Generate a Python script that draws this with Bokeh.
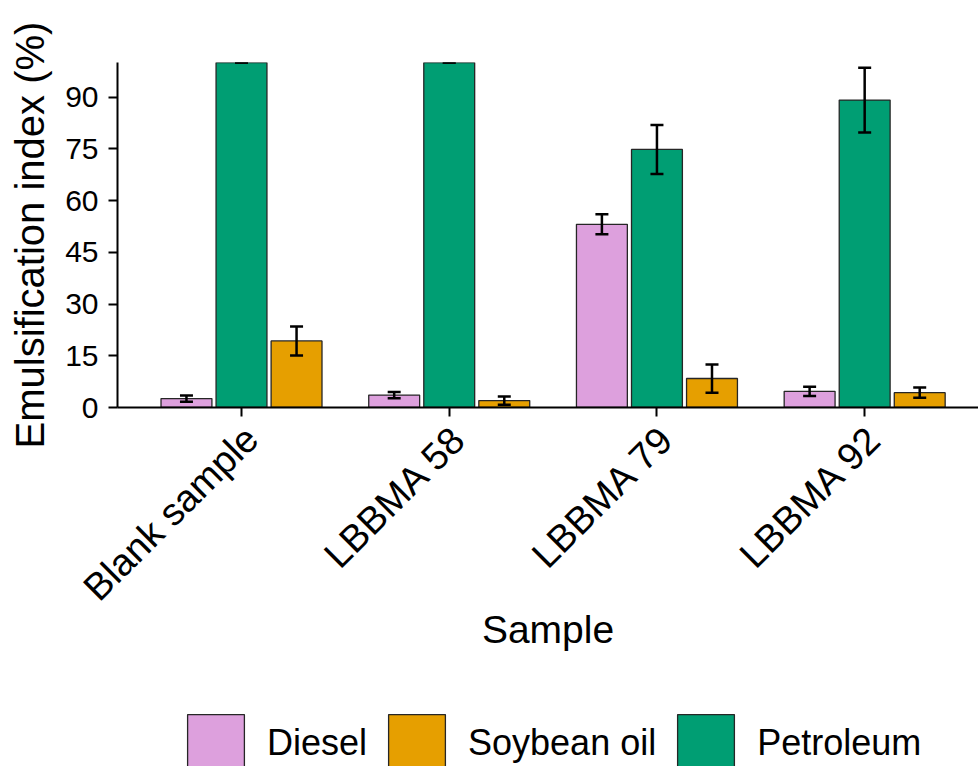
from bokeh.plotting import figure
from bokeh.layouts import column
from bokeh.models import (ColumnDataSource, Whisker, TeeHead, Legend, LegendItem,
                          Range1d, FixedTicker, LinearAxis)
from bokeh.embed import file_html
from bokeh.resources import INLINE

# Emulsification index per sample and oil (mean, with error)
samples = ["Blank sample", "LBBMA 58", "LBBMA 79", "LBBMA 92"]
diesel = [2.6, 3.6, 53.1, 4.7]
diesel_err = [0.9, 0.9, 2.9, 1.35]
petroleum = [100.0, 100.0, 74.8, 89.1]
petroleum_err = [0.0, 0.0, 7.1, 9.4]
soybean = [19.3, 2.0, 8.4, 4.3]
soybean_err = [4.2, 1.2, 4.1, 1.5]
y_ticks = [0, 15, 30, 45, 60, 75, 90]

oils = ["Diesel", "Soybean oil", "Petroleum"]
colors = {"Diesel": "#DDA0DD", "Soybean oil": "#E69F00", "Petroleum": "#009E73"}
values = {"Diesel": diesel, "Soybean oil": soybean, "Petroleum": petroleum}

FONT = "Liberation Sans"
positions = list(range(1, len(samples) + 1))
bar_w = 0.245
step = 0.265
x_start, x_end = 0.403, 4.548
label_shift = 0.048   # rotated labels sit slightly right of their tick

p = figure(width=978, height=700, output_backend="svg", toolbar_location=None,
           x_range=Range1d(x_start, x_end), y_range=Range1d(0, 100),
           min_border_left=117, min_border_right=0, min_border_top=62,
           min_border_bottom=293)
p.outline_line_color = None
p.grid.visible = False
p.extra_x_ranges = {"labels": Range1d(x_start - label_shift, x_end - label_shift)}


def add_series(vals, errors, offset, color):
    xs = [x + offset for x in positions]
    src = ColumnDataSource(dict(
        x=xs, top=vals,
        upper=[v + e for v, e in zip(vals, errors)],
        lower=[v - e for v, e in zip(vals, errors)]))
    p.vbar(x="x", top="top", bottom=0, width=bar_w, source=src,
           fill_color=color, line_color="#262626", line_width=1.3)
    head = dict(size=13, line_width=2.5, line_color="black")
    w = Whisker(base="x", upper="upper", lower="lower", source=src,
                level="annotation", line_color="black", line_width=2.5,
                upper_head=TeeHead(**head), lower_head=TeeHead(**head))
    p.add_layout(w)


add_series(diesel, diesel_err, -step, colors["Diesel"])
add_series(petroleum, petroleum_err, 0.0, colors["Petroleum"])
add_series(soybean, soybean_err, step, colors["Soybean oil"])

# axes: the main x axis carries the line and ticks, a second one the labels
label_axis = LinearAxis(x_range_name="labels")
p.add_layout(label_axis, "below")

for ax in (p.xaxis[0], p.yaxis[0], label_axis):
    ax.axis_line_width = 2
    ax.axis_line_color = "black"
    ax.major_tick_line_width = 2
    ax.major_tick_line_color = "black"
    ax.major_tick_out = 9
    ax.major_tick_in = 0
    ax.minor_tick_line_color = None
    ax.major_label_text_font = FONT
    ax.major_label_text_color = "black"
    ax.axis_label_text_font = FONT
    ax.axis_label_text_font_style = "normal"
    ax.axis_label_text_color = "black"

p.yaxis.ticker = FixedTicker(ticks=y_ticks)
p.yaxis.major_label_text_font_size = "30px"
p.yaxis.major_label_standoff = 10
p.yaxis.axis_label = "Emulsification index (%)"
p.yaxis.axis_label_text_font_size = "40px"
p.yaxis.axis_label_standoff = 10

main_x = p.xaxis[0]
main_x.ticker = FixedTicker(ticks=positions)
main_x.major_label_overrides = {x: "" for x in positions}
main_x.major_label_text_font_size = "0px"
main_x.major_label_standoff = 0

label_axis.ticker = FixedTicker(ticks=positions)
label_axis.axis_line_color = None
label_axis.major_tick_out = 0
label_axis.major_tick_line_color = None
label_axis.major_label_overrides = {x: s for x, s in zip(positions, samples)}
label_axis.major_label_orientation = 0.785398
label_axis.major_label_text_font_size = "38px"
label_axis.major_label_standoff = 16
label_axis.axis_label = "Sample"
label_axis.axis_label_text_font_size = "39px"
label_axis.axis_label_standoff = -18

# legend strip underneath the chart
lg = figure(width=978, height=66, output_backend="svg", toolbar_location=None,
            x_axis_type=None, y_axis_type=None, x_range=Range1d(0, 1),
            y_range=Range1d(0, 1), min_border=0)
lg.outline_line_color = None
lg.grid.visible = False
items = []
for oil in oils:
    r = lg.vbar(x=positions, top=values[oil], width=bar_w, fill_color=colors[oil],
                line_color="#262626", line_width=1.3, visible=False)
    items.append(LegendItem(label=oil, renderers=[r]))
legend = Legend(items=items, orientation="horizontal", location=(63, -12),
                glyph_width=71, glyph_height=71, label_standoff=16, spacing=14,
                padding=0, margin=0, border_line_color=None,
                background_fill_alpha=0, inactive_fill_alpha=0,
                label_text_font=FONT, label_text_font_size="36px",
                label_text_color="black")
lg.add_layout(legend, "center")

layout = column(p, lg, spacing=0)
open("out.html", "w").write(file_html(layout, INLINE))
